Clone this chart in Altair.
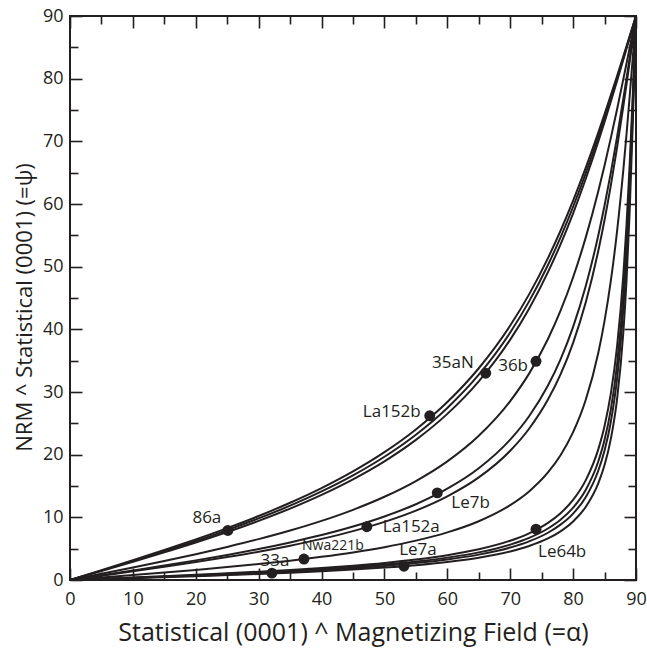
import altair as alt
import pandas as pd

# ---------------- data ----------------
alpha = [0, 5, 10, 15, 20, 25, 30, 35, 40, 45, 50, 55, 60, 65, 70, 73, 76, 78,
         80, 82, 84, 85, 86, 87, 88, 88.5, 89, 89.5, 90]

psi_a1 = [0, 1.56, 3.15, 4.78, 6.48, 8.28, 10.21, 12.33, 14.67, 17.33, 20.40, 24.02, 28.39, 33.79, 40.60, 45.58, 51.37, 55.73, 60.53, 65.75, 71.38, 74.34, 77.37, 80.47, 83.61, 85.20, 86.80, 88.40, 90]
psi_a2 = [0, 1.50, 3.03, 4.60, 6.23, 7.96, 9.83, 11.86, 14.13, 16.70, 19.67, 23.19, 27.46, 32.76, 39.50, 44.46, 50.27, 54.68, 59.56, 64.90, 70.69, 73.74, 76.88, 80.09, 83.36, 85.01, 86.67, 88.33, 90]
psi_a3 = [0, 1.44, 2.91, 4.41, 5.98, 7.65, 9.44, 11.40, 13.59, 16.07, 18.94, 22.36, 26.51, 31.70, 38.35, 43.29, 49.12, 53.57, 58.52, 63.99, 69.95, 73.10, 76.35, 79.69, 83.09, 84.81, 86.53, 88.26, 90]
psi_d = [0, 0.99, 2.00, 3.04, 4.12, 5.28, 6.52, 7.89, 9.43, 11.20, 13.28, 15.79, 18.93, 23.01, 28.55, 32.93, 38.46, 42.97, 48.31, 54.63, 62.04, 66.16, 70.55, 75.17, 80.00, 82.47, 84.96, 87.48, 90]
psi_b1 = [0, 0.75, 1.52, 2.30, 3.13, 4.00, 4.95, 6.00, 7.17, 8.53, 10.14, 12.09, 14.57, 17.83, 22.40, 26.13, 31.03, 35.21, 40.39, 46.87, 54.98, 59.75, 65.01, 70.74, 76.89, 80.10, 83.36, 86.67, 90]
psi_b2 = [0, 0.69, 1.38, 2.10, 2.86, 3.66, 4.52, 5.48, 6.56, 7.80, 9.27, 11.07, 13.35, 16.37, 20.63, 24.14, 28.79, 32.80, 37.85, 44.27, 52.51, 57.44, 62.96, 69.07, 75.70, 79.18, 82.74, 86.36, 90]
psi_n = [0, 0.39, 0.78, 1.18, 1.61, 2.06, 2.55, 3.09, 3.70, 4.40, 5.24, 6.28, 7.60, 9.38, 11.95, 14.14, 17.16, 19.91, 23.59, 28.72, 36.23, 41.35, 47.76, 55.76, 65.61, 71.22, 77.23, 83.53, 90]
psi_c1 = [0, 0.20, 0.40, 0.61, 0.83, 1.07, 1.32, 1.60, 1.92, 2.29, 2.73, 3.27, 3.96, 4.90, 6.27, 7.45, 9.11, 10.66, 12.78, 15.89, 20.84, 24.57, 29.77, 37.35, 48.88, 56.79, 66.43, 77.69, 90]
psi_c2 = [0, 0.18, 0.36, 0.55, 0.75, 0.96, 1.19, 1.44, 1.73, 2.06, 2.46, 2.94, 3.57, 4.41, 5.65, 6.72, 8.22, 9.61, 11.54, 14.37, 18.91, 22.37, 27.24, 34.49, 45.87, 53.97, 64.13, 76.37, 90]
psi_c3 = [0, 0.17, 0.33, 0.51, 0.69, 0.88, 1.09, 1.32, 1.59, 1.89, 2.25, 2.70, 3.27, 4.05, 5.18, 6.16, 7.54, 8.83, 10.60, 13.21, 17.43, 20.67, 25.26, 32.20, 43.38, 51.57, 62.12, 75.19, 90]
psi_c4 = [0, 0.15, 0.29, 0.45, 0.61, 0.78, 0.96, 1.16, 1.39, 1.66, 1.98, 2.37, 2.88, 3.56, 4.56, 5.42, 6.63, 7.77, 9.34, 11.66, 15.43, 18.34, 22.53, 28.96, 39.71, 47.92, 58.96, 73.25, 90]

point_names = ["86a", "La152b", "35aN", "36b", "Le7b", "La152a", "Nwa221b", "33a", "Le7a", "Le64b"]
point_alpha = [25.1, 57.2, 66.1, 74.1, 58.4, 47.2, 37.2, 32.1, 53.1, 74.1]
point_psi = [7.9, 26.2, 33.0, 34.9, 13.9, 8.5, 3.35, 1.1, 2.2, 8.1]

major_ticks = [0, 10, 20, 30, 40, 50, 60, 70, 80, 90]
minor_ticks = [5, 15, 25, 35, 45, 55, 65, 75, 85]

# ---------------- tables ----------------
curves = {"a1": psi_a1, "a2": psi_a2, "a3": psi_a3, "d": psi_d, "b1": psi_b1,
          "b2": psi_b2, "n": psi_n, "c1": psi_c1, "c2": psi_c2, "c3": psi_c3, "c4": psi_c4}
rows = []
for name, vals in curves.items():
    for a, p in zip(alpha, vals):
        rows.append({"curve": name, "alpha": a, "psi": p})
lines_df = pd.DataFrame(rows)
pts_df = pd.DataFrame({"name": point_names, "alpha": point_alpha, "psi": point_psi})

# ---------------- styles ----------------
INK = "#231f20"
FONT = "Open Sans"
MAJ, MIN = 12, 8
xs = alt.Scale(domain=[0, 90], nice=False, zero=False)
ys = alt.Scale(domain=[0, 90], nice=False, zero=False)


def ax(orient, values, size, labels=False, title=None, **kw):
    return alt.Axis(orient=orient, values=values, offset=-size, tickSize=size,
                    tickWidth=1.6, tickColor=INK, domain=False, grid=False,
                    labels=labels, title=title, labelFont=FONT, labelFontSize=18,
                    labelColor=INK, labelOverlap=False, labelFlush=False,
                    titleFont=FONT, titleFontWeight="normal",
                    titleColor=INK, **kw)


def enc(xaxis, yaxis):
    return dict(
        x=alt.X("alpha:Q", scale=xs, axis=xaxis),
        y=alt.Y("psi:Q", scale=ys, axis=yaxis),
    )


lines = alt.Chart(lines_df).mark_line(
    color=INK, strokeWidth=2, interpolate="monotone", clip=True
).encode(
    detail="curve:N",
    **enc(
        ax("bottom", major_ticks, MAJ, labels=True,
           title="Statistical (0001) ^ Magnetizing Field (=\u03b1)",
           labelPadding=10, titlePadding=12, titleFontSize=25),
        ax("left", major_ticks, MAJ, labels=True,
           title="NRM ^ Statistical (0001) (=\u03c8)",
           labelPadding=7, titleFontSize=22, titleX=-46, titleY=291),
    )
)

points = alt.Chart(pts_df).mark_circle(color=INK, opacity=1, size=120).encode(
    **enc(ax("bottom", minor_ticks, MIN), ax("left", minor_ticks, MIN))
)

top_major = alt.Chart(pts_df).mark_point(opacity=0).encode(
    **enc(ax("top", major_ticks, MAJ), ax("right", major_ticks, MAJ))
)
top_minor = alt.Chart(pts_df).mark_point(opacity=0).encode(
    **enc(ax("top", minor_ticks, MIN), ax("right", minor_ticks, MIN))
)

label_style = {
    "86a": dict(align="center", dx=-21, dy=-12),
    "La152b": dict(align="right", dx=-9, dy=-4),
    "35aN": dict(align="right", dx=-12, dy=-10),
    "36b": dict(align="right", dx=-8, dy=5),
    "Le7b": dict(align="left", dx=14, dy=10),
    "La152a": dict(align="left", dx=16, dy=0),
    "Nwa221b": dict(align="center", dx=29, dy=-13, fontSize=14),
    "33a": dict(align="center", dx=3, dy=-12),
    "Le7a": dict(align="center", dx=14, dy=-16),
    "Le64b": dict(align="left", dx=2, dy=23),
}

text_layers = []
for nm in point_names:
    st = dict(fontSize=17)
    st.update(label_style[nm])
    text_layers.append(
        alt.Chart(pts_df).transform_filter(alt.datum.name == nm).mark_text(
            font=FONT, color=INK, baseline="middle", **st
        ).encode(
            x=alt.X("alpha:Q", scale=xs, axis=None),
            y=alt.Y("psi:Q", scale=ys, axis=None),
            text="name:N",
        )
    )

chart = alt.layer(lines, points, top_major, top_minor, *text_layers).resolve_axis(
    x="independent", y="independent"
).properties(
    width=566, height=564,
    padding={"left": 70, "top": 16, "right": 11, "bottom": 68},
    autosize=alt.AutoSizeParams(type="none"),
    background="white",
).configure_view(stroke=INK, strokeWidth=2)

chart.save("out.html", embed_options={"renderer": "svg", "actions": False})
